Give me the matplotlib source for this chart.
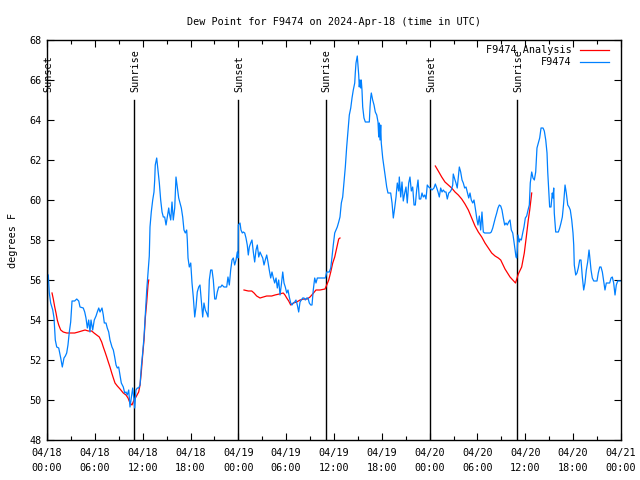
import matplotlib
matplotlib.use("Agg")
import matplotlib.pyplot as plt

plt.rcParams['font.family'] = ['DejaVu Sans Mono']

title = "Dew Point for F9474 on 2024-Apr-18 (time in UTC)"
ylabel = "degrees F"

# hours since 04/18 00:00 UTC
obs_hours = [0.16, 0.29, 0.46, 0.72, 0.88, 1.04, 1.22, 1.47, 1.72, 1.92, 2.13, 2.30, 2.47, 2.63, 2.80, 2.97,
             3.14, 3.47, 3.73, 3.98, 4.14, 4.55, 4.73, 4.89, 5.06, 5.23, 5.39, 5.52, 5.73, 5.93, 6.15, 6.31,
             6.49, 6.65, 6.90, 7.06, 7.19, 7.40, 7.56, 7.74, 7.90, 8.15, 8.32, 8.49, 8.66, 8.82, 8.99, 9.16,
             9.32, 9.57, 9.75, 9.91, 10.07, 10.25, 10.41, 10.57, 10.75, 10.91, 11.00, 11.16, 11.33, 11.50,
             11.67, 11.83, 12.00, 12.17, 12.33, 12.51, 12.67, 12.83, 12.92, 13.08, 13.26, 13.42, 13.51, 13.58,
             13.76, 13.92, 14.09, 14.26, 14.43, 14.59, 14.76, 14.93, 15.09, 15.27, 15.34, 15.52, 15.68, 15.84,
             16.02, 16.18, 16.34, 16.52, 16.68, 16.85, 17.02, 17.18, 17.35, 17.52, 17.60, 17.69, 17.85, 18.03,
             18.19, 18.35, 18.53, 18.69, 18.85, 19.03, 19.19, 19.35, 19.53, 19.69, 19.86, 20.03, 20.20, 20.36,
             20.53, 20.70, 20.86, 21.04, 21.20, 21.36, 21.54, 21.79, 21.95, 22.20, 22.54, 22.70, 22.87, 23.04,
             23.21, 23.37, 23.54, 23.71, 23.87, 23.97, 24.00, 24.21, 24.33, 24.50, 24.63, 24.80, 24.96, 25.12,
             25.25, 25.38, 25.55, 25.71, 25.88, 26.05, 26.22, 26.38, 26.56, 26.72, 26.88, 27.06, 27.22, 27.38,
             27.56, 27.72, 27.88, 28.06, 28.22, 28.39, 28.56, 28.73, 28.89, 29.06, 29.23, 29.39, 29.57, 29.73,
             29.89, 30.07, 30.23, 30.39, 30.57, 30.73, 30.90, 31.07, 31.23, 31.40, 31.57, 31.74, 31.90, 32.07,
             32.24, 32.40, 32.58, 32.74, 32.90, 33.08, 33.24, 33.40, 33.58, 33.74, 33.91, 34.08, 34.66, 34.91,
             35.09, 35.41, 35.59, 35.75, 35.91, 36.09, 36.25, 36.41, 36.59, 36.75, 36.92, 37.09, 37.25, 37.42,
             37.59, 37.76, 37.92, 38.10, 38.26, 38.42, 38.60, 38.67, 38.76, 38.92, 39.01, 39.10, 39.17, 39.26,
             39.35, 39.42, 39.51, 39.60, 39.76, 39.93, 40.18, 40.43, 40.52, 40.60, 40.68, 40.85, 41.02, 41.18,
             41.36, 41.52, 41.61, 41.68, 41.77, 41.86, 41.93, 42.11, 42.27, 42.44, 42.61, 42.77, 43.11, 43.28,
             43.44, 43.61, 43.78, 43.94, 44.12, 44.19, 44.37, 44.53, 44.69, 44.87, 45.03, 45.19, 45.37, 45.53,
             45.70, 45.87, 46.04, 46.20, 46.37, 46.54, 46.70, 46.88, 47.04, 47.20, 47.38, 47.54, 47.70, 47.88,
             48.04, 48.29, 48.54, 48.71, 48.89, 49.05, 49.21, 49.38, 49.55, 49.71, 49.89, 50.05, 50.21, 50.39,
             50.55, 50.71, 50.89, 50.96, 51.14, 51.30, 51.46, 51.64, 51.72, 51.89, 52.06, 52.22, 52.39, 52.56,
             52.72, 52.90, 53.06, 53.22, 53.40, 53.56, 53.72, 53.90, 54.06, 54.23, 54.40, 54.56, 54.73, 54.90,
             55.57, 55.73, 55.91, 56.07, 56.23, 56.41, 56.57, 56.74, 56.91, 57.07, 57.24, 57.41, 57.58, 57.74,
             57.91, 58.08, 58.24, 58.42, 58.58, 58.74, 58.83, 58.92, 58.99, 59.08, 59.25, 59.33, 59.50, 59.67,
             59.83, 60.00, 60.17, 60.34, 60.50, 60.62, 60.80, 60.96, 61.13, 61.30, 61.46, 61.63, 61.80, 61.97,
             62.22, 62.38, 62.56, 62.72, 62.81, 62.97, 63.05, 63.22, 63.38, 63.47, 63.56, 63.63, 63.81, 64.14,
             64.31, 64.47, 64.64, 64.81, 64.98, 65.14, 65.32, 65.48, 65.64, 65.82, 65.98, 66.07, 66.14, 66.32,
             66.48, 66.64, 66.82, 66.98, 67.15, 67.32, 67.48, 67.65, 67.82, 67.99, 68.07, 68.24, 68.40, 68.58,
             68.99, 69.15, 69.33, 69.49, 69.66, 69.83, 69.99, 70.16, 70.33, 70.58, 70.75, 70.91, 71.08, 71.25,
             71.41, 71.59, 71.91]
obs_values = [56.25, 55.35, 54.85, 54.5, 54.1, 53.0, 52.65, 52.6, 52.1, 51.65, 52.1, 52.2, 52.35, 52.75, 53.4, 53.9,
              54.95, 54.95, 55.05, 54.95, 54.65, 54.6, 54.4, 54.1, 53.6, 54.0, 53.4, 54.0, 53.5, 54.0, 54.2, 54.4,
              54.6, 54.4, 54.6, 54.25, 53.85, 53.85, 53.6, 53.4, 53.0, 52.65, 52.5, 52.15, 51.75, 51.6, 51.65, 51.25,
              50.85, 50.65, 50.35, 50.4, 50.25, 50.5, 49.65, 50.1, 50.6, 50.0, 49.6, 50.5, 50.6, 50.6,
              50.75, 51.65, 52.35, 53.15, 54.3, 55.5, 56.35, 57.2, 58.65, 59.4, 60.0, 60.4, 61.0, 61.75,
              62.1, 61.5, 60.85, 60.0, 59.4, 59.15, 59.15, 58.75, 59.15, 59.6, 59.35, 59.0, 59.9, 59.0,
              59.6, 61.15, 60.65, 60.1, 59.85, 59.6, 59.15, 58.5, 58.35, 58.5, 58.0, 57.1, 56.65, 56.85,
              55.85, 55.15, 54.15, 54.65, 55.4, 55.65, 55.75, 55.0, 54.15, 54.85, 54.5, 54.35, 54.15, 56.0,
              56.5, 56.5, 56.0, 55.05, 55.05, 55.4, 55.65, 55.65, 55.75, 55.65, 55.65, 56.15, 55.75, 56.5,
              57.0, 57.1, 56.75, 57.0, 57.4, 57.1, 58.75, 58.85, 58.5, 58.35, 58.4, 58.35, 58.1, 57.75,
              57.25, 57.65, 57.85, 58.0, 57.4, 56.9, 57.5, 57.75, 57.15, 57.4, 57.25, 57.1, 56.75, 57.0,
              57.25, 56.9, 56.5, 56.1, 56.4, 56.1, 55.85, 56.1, 55.6, 56.0, 55.25, 55.75, 56.4, 55.85,
              55.65, 55.35, 55.5, 55.15, 54.85, 54.75, 54.85, 54.9, 55.0, 54.75, 54.4, 54.9, 55.0, 55.1,
              55.1, 55.0, 55.1, 55.1, 54.85, 54.75, 54.75, 55.5, 56.1, 55.85, 56.1, 56.1, 56.1, 56.1,
              56.4, 56.4, 56.6, 57.15, 57.75, 58.35, 58.5, 58.65, 58.9, 59.15, 59.85, 60.15, 60.9, 61.65,
              62.65, 63.5, 64.25, 64.6, 65.1, 65.5, 65.85, 66.35, 66.85, 67.2, 66.75, 66.25, 65.65, 66.0,
              65.6, 66.0, 65.5, 64.65, 64.1, 63.9, 63.9, 63.9, 64.65, 65.1, 65.35, 65.0, 64.75, 64.4,
              64.25, 63.9, 63.15, 63.85, 63.0, 63.75, 62.85, 62.1, 61.65, 61.15, 60.65, 60.35, 60.35, 59.85,
              59.1, 59.6, 60.15, 60.85, 60.45, 61.15, 60.15, 60.9, 59.95, 60.35, 60.65, 59.85, 60.85, 61.15,
              60.45, 60.65, 59.75, 59.75, 60.5, 61.0, 60.05, 60.05, 60.35, 60.15, 60.25, 60.05, 60.75, 60.65,
              60.6, 60.5, 60.6, 60.8, 60.6, 60.4, 60.15, 60.6, 60.4, 60.5, 60.4, 60.4, 60.05, 60.35,
              60.4, 60.5, 60.75, 61.3, 61.05, 60.85, 60.6, 61.35, 61.65, 61.4, 61.0, 60.85, 60.6, 60.65,
              60.4, 60.1, 60.35, 60.0, 59.85, 60.0, 59.6, 59.1, 58.75, 59.2, 58.5, 59.4, 58.4, 58.35,
              58.35, 58.4, 58.6, 58.85, 59.1, 59.35, 59.6, 59.75, 59.7, 59.5, 59.1, 58.75, 58.85, 58.75,
              58.9, 59.0, 58.5, 58.35, 57.9, 57.4, 57.15, 57.1, 57.5, 58.25, 57.9, 58.05, 58.0, 58.35,
              58.65, 59.1, 59.2, 59.5, 59.75, 60.85, 61.4, 61.1, 61.0, 61.4, 62.6, 62.85, 63.1, 63.6,
              63.6, 63.45, 63.0, 62.35, 61.4, 60.25, 59.65, 59.65, 60.35, 60.1, 60.6, 59.35, 58.4, 58.4,
              58.6, 58.85, 59.15, 59.85, 60.75, 60.35, 59.75, 59.65, 59.5, 59.0, 58.35, 57.75, 56.75, 56.25,
              56.35, 56.6, 57.0, 57.0, 56.15, 55.5, 55.85, 56.5, 56.9, 57.5, 57.2, 56.5, 56.1, 55.95,
              55.95, 56.35, 56.65, 56.65, 56.4, 55.95, 55.5, 55.85, 55.85, 55.85, 56.1, 56.15, 55.85, 55.25,
              55.75, 55.95, 55.95]

# analysis segments (hours, values)
ana1_hours = [0.63, 0.79, 0.97, 1.13, 1.29, 1.47, 1.72, 2.04, 2.47, 2.97, 3.47, 3.93, 4.35, 4.77, 5.18, 5.61,
              5.90, 6.23, 6.56, 6.86, 7.06, 7.28, 7.49, 7.69, 7.90, 8.12, 8.32, 8.53, 8.82, 9.16, 9.57, 9.91,
              10.16, 10.41, 10.66, 10.91, 11.16, 11.50, 11.67, 11.83, 12.00, 12.17, 12.33, 12.51, 12.67, 12.76]
ana1_values = [55.35, 55.05, 54.65, 54.35, 54.0, 53.75, 53.5, 53.4, 53.35, 53.35, 53.35, 53.4, 53.45, 53.5, 53.45, 53.45,
               53.35, 53.25, 53.15, 52.9, 52.65, 52.4, 52.15, 51.9, 51.65, 51.35, 51.1, 50.85, 50.7, 50.55, 50.35, 50.25,
               50.1, 49.85, 49.75, 50.0, 50.15, 50.4, 50.75, 51.4, 52.25, 53.0, 54.1, 54.9, 55.75, 56.0]
ana2_hours = [24.71, 25.25, 25.68, 25.97, 26.30, 26.72, 27.13, 27.56, 28.19, 28.60, 29.14, 29.64, 29.85, 30.07,
              30.32, 30.57, 30.90, 31.32, 31.74, 32.24, 32.65, 32.99, 33.33, 33.74, 34.24, 34.87, 35.09, 35.34,
              35.59, 35.84, 36.09, 36.34, 36.59, 36.75]
ana2_values = [55.5, 55.45, 55.45, 55.35, 55.2, 55.1, 55.15, 55.2, 55.2, 55.25, 55.3, 55.35, 55.25, 55.1,
               54.95, 54.75, 54.85, 54.9, 55.0, 55.05, 55.05, 55.15, 55.3, 55.5, 55.5, 55.55, 55.75, 56.0,
               56.4, 56.85, 57.15, 57.6, 58.05, 58.1]
ana3_hours = [48.71, 49.08, 49.51, 49.92, 50.34, 50.76, 51.18, 51.59, 52.02, 52.43, 52.85, 53.27, 53.69, 54.10,
              54.53, 54.94, 55.36, 55.78, 56.20, 56.61, 56.91, 57.45, 58.08, 58.77, 59.12, 59.54, 59.87, 60.12,
              60.37, 60.55, 60.80]
ana3_values = [61.7, 61.45, 61.15, 60.9, 60.75, 60.6, 60.4, 60.25, 60.05, 59.8, 59.5, 59.1, 58.7, 58.4,
               58.15, 57.85, 57.6, 57.35, 57.2, 57.1, 57.0, 56.55, 56.15, 55.85, 56.3, 56.65, 57.35, 58.15,
               59.0, 59.5, 60.35]

sun_events = ["Sunset", "Sunrise", "Sunset", "Sunrise", "Sunset", "Sunrise"]
sun_hours = [0.0, 10.95, 23.98, 34.95, 48.08, 58.98]

xtick_hours = [0, 6, 12, 18, 24, 30, 36, 42, 48, 54, 60, 66, 72]
xtick_labels = ["04/18\n00:00", "04/18\n06:00", "04/18\n12:00", "04/18\n18:00",
                "04/19\n00:00", "04/19\n06:00", "04/19\n12:00", "04/19\n18:00",
                "04/20\n00:00", "04/20\n06:00", "04/20\n12:00", "04/20\n18:00",
                "04/21\n00:00"]
ytick_values = [48, 50, 52, 54, 56, 58, 60, 62, 64, 66, 68]

RED = "#ff0000"
BLUE = "#0080ff"
FS = 7.3

fig = plt.figure(figsize=(6.4, 4.8), dpi=100)
ax = fig.add_axes([47/640, 40/480, 574/640, 400/480])

for h, name in zip(sun_hours, sun_events):
    ax.axvline(h, ymin=0, ymax=0.85, color="black", lw=1.0)
    ax.text(h + 0.15, 0.87, name, transform=ax.get_xaxis_transform(), rotation=90,
            ha="center", va="bottom", fontsize=FS)

ax.plot(ana1_hours, ana1_values, color=RED, lw=0.9, label="F9474 Analysis")
ax.plot(ana2_hours, ana2_values, color=RED, lw=0.9)
ax.plot(ana3_hours, ana3_values, color=RED, lw=0.9)
ax.plot(obs_hours, obs_values, color=BLUE, lw=0.9, label="F9474")

ax.set_xlim(0, 72)
ax.set_ylim(48, 68)
ax.set_xticks(xtick_hours)
ax.set_xticklabels(xtick_labels, fontsize=FS, linespacing=1.6)
ax.set_xticks([h + 3 for h in xtick_hours[:-1]], minor=True)
ax.set_yticks(ytick_values)
ax.set_yticklabels([str(v) for v in ytick_values], fontsize=FS)
ax.tick_params(axis="x", which="major", direction="in", length=5, width=0.8,
               top=True, pad=6)
ax.tick_params(axis="y", which="major", direction="in", length=5, width=0.8,
               right=True, pad=4)
ax.tick_params(axis="x", which="minor", direction="in", length=3, width=0.8, top=True)
for s in ax.spines.values():
    s.set_linewidth(1.0)

ax.set_title(title, fontsize=FS, pad=11)
ax.set_ylabel(ylabel, fontsize=FS, labelpad=8)

leg = ax.legend(loc="upper right", bbox_to_anchor=(0.986, 0.9975), frameon=False, fontsize=FS,
                markerfirst=False, handlelength=2.9, handletextpad=0.75, borderaxespad=0.0,
                borderpad=0.4, labelspacing=0.2)
for t in leg.get_texts():
    t.set_ha("right")

fig.savefig("out.png", dpi=100)
